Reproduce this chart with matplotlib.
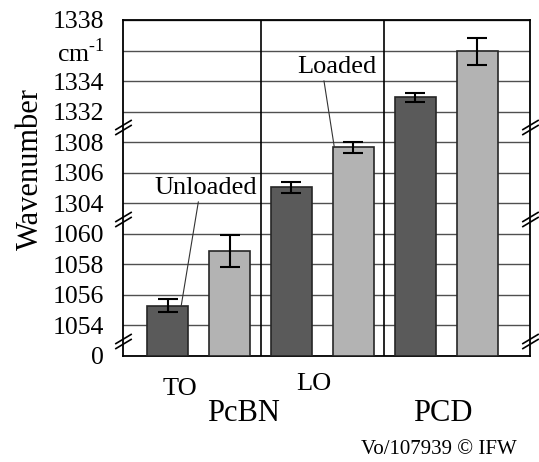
import numpy as np
import matplotlib
matplotlib.use('Agg')
import matplotlib.pyplot as plt
from matplotlib.path import Path

plt.rcParams['font.family'] = 'Liberation Serif'
plt.rcParams['mathtext.fontset'] = 'custom'
plt.rcParams['mathtext.rm'] = 'Liberation Serif'

# raman line positions, unloaded vs loaded (cm-1)
modes = ['TO', 'LO']
materials = ['PcBN', 'PCD']
unloaded = [1055.3, 1305.05, 1332.95]
unloaded_err = [0.4, 0.35, 0.3]
loaded = [1058.85, 1307.7, 1335.95]
loaded_err = [1.05, 0.4, 0.9]

ytick_vals = [0, 1054, 1056, 1058, 1060, 1304, 1306, 1308, 1332, 1334, 1336, 1338]
ytick_labels = ['0', '1054', '1056', '1058', '1060', '1304', '1306', '1308',
                '1332', '1334', 'cm$^{\\mathregular{\u2010}1}$', '1338']

# broken axis: every tick gets one row, breaks sit in the jumps
rows = np.arange(len(ytick_vals), dtype=float)


def fwd(v):
    return np.interp(v, ytick_vals, rows)


def inv(r):
    return np.interp(r, rows, ytick_vals)


fig = plt.figure(figsize=(5.39, 4.62), dpi=100)
ax = fig.add_axes([123 / 539, 1 - 356 / 462, 407 / 539, 336 / 462])
ax.set_yscale('function', functions=(fwd, inv))

x = np.arange(len(unloaded)) * 2
bar_kw = dict(width=0.66, edgecolor='#262626', linewidth=1.2, zorder=3)
err_kw = dict(ecolor='black', elinewidth=1.5, capsize=7.5, capthick=1.5)
ax.bar(x, unloaded, color='#5a5a5a', yerr=unloaded_err, error_kw=err_kw, **bar_kw)
ax.bar(x + 1, loaded, color='#b3b3b3', yerr=loaded_err, error_kw=err_kw, **bar_kw)

ax.set_xlim(-0.72, 5.85)
ax.set_ylim(0, 1338)
ax.set_yticks(ytick_vals)
ax.set_yticklabels(ytick_labels)
ax.yaxis.set_minor_locator(matplotlib.ticker.NullLocator())
ax.tick_params(axis='y', length=0, pad=13.5, labelsize=18.5)
ax.set_xticks([])
ax.yaxis.grid(True, color='#505050', linewidth=1.0, zorder=0)
ax.set_axisbelow(True)
for xv in x[1:] - 0.5:
    ax.axvline(xv, color='black', linewidth=1.2, zorder=2)
for sp in ax.spines.values():
    sp.set_linewidth(1.3)
    sp.set_color('black')

# double-slash break marks on both spines
brk = Path([(-1, -0.9), (1, 0.3), (-1, -0.3), (1, 0.9)],
           [Path.MOVETO, Path.LINETO, Path.MOVETO, Path.LINETO])
brk_vals = inv(np.array([0.5, 4.5, 7.5]))
for side in (0, 1):
    ax.plot([side] * 3, brk_vals, transform=ax.get_yaxis_transform(),
            marker=brk, markersize=12, markeredgewidth=1.2, color='black',
            ls='', clip_on=False, zorder=6)

# group labels
xt = ax.get_xaxis_transform()
ax.text(0.2, -0.098, modes[0], transform=xt, ha='center', va='center', fontsize=19)
ax.text(2.36, -0.083, modes[1], transform=xt, ha='center', va='center', fontsize=19)
ax.text(1.22, -0.17, materials[0], transform=xt, ha='center', va='center', fontsize=22)
ax.text(4.44, -0.17, materials[1], transform=xt, ha='center', va='center', fontsize=22)

ax.annotate('Unloaded', xy=(0.22, unloaded[0]), xytext=(206, 462 - 188),
            textcoords='figure pixels', ha='center', va='center', fontsize=19,
            arrowprops=dict(arrowstyle='-', color='#333333', lw=0.8,
                            relpos=(0.43, 0), shrinkA=0, shrinkB=0))
ax.annotate('Loaded', xy=(2.69, loaded[1]), xytext=(337, 462 - 67),
            textcoords='figure pixels', ha='center', va='center', fontsize=19,
            arrowprops=dict(arrowstyle='-', color='#333333', lw=0.8,
                            relpos=(0.33, 0), shrinkA=0, shrinkB=0))

fig.text(30 / 539, 1 - 169 / 462, 'Wavenumber', rotation=90,
         ha='center', va='center', fontsize=22)
fig.text(439 / 539, 1 - 450 / 462, 'Vo/107939 \u00a9 IFW',
         ha='center', va='center', fontsize=15)

fig.savefig('out.png', dpi=100)
